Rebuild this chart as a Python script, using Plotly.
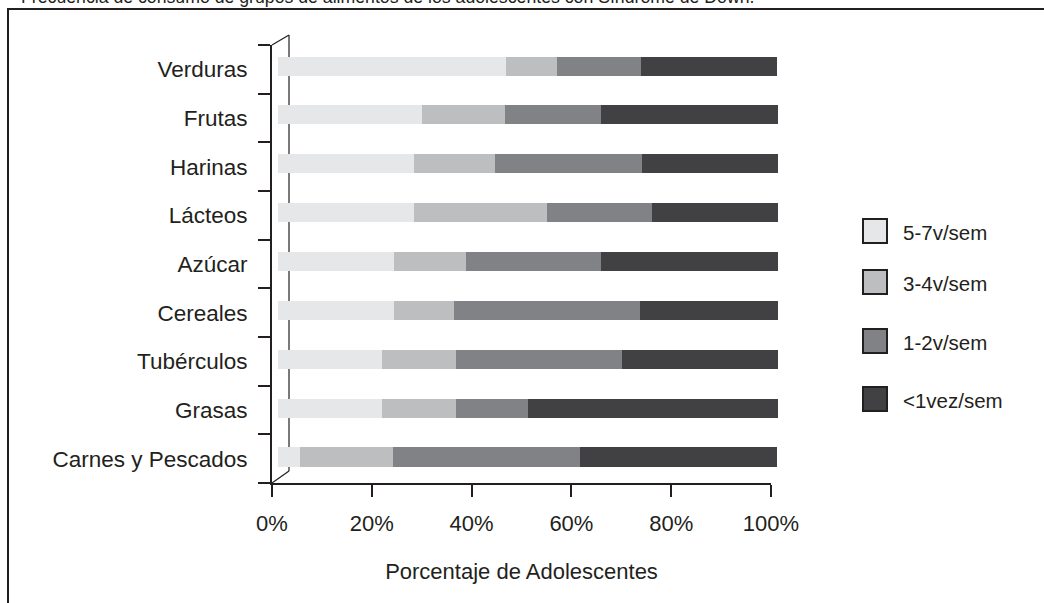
import plotly.graph_objects as go

# Canvas size in pixels (margins are zero, so paper coords map 1:1 to pixels)
W, H = 1044, 603

categories = ["Verduras", "Frutas", "Harinas", "Lácteos", "Azúcar",
              "Cereales", "Tubérculos", "Grasas", "Carnes y Pescados"]

freq_5_7 = [45.6, 28.8, 27.2, 27.2, 23.2, 23.2, 20.8, 20.8, 4.4]
freq_3_4 = [10.2, 16.6, 16.2, 26.6, 14.4, 12.0, 14.8, 14.8, 18.6]
freq_1_2 = [16.8, 19.2, 29.4, 21.0, 27.0, 37.2, 33.2, 14.4, 37.4]
freq_lt1 = [27.2, 35.4, 27.2, 25.2, 35.4, 28.0, 31.6, 50.0, 39.4]

series_names = ["5-7v/sem", "3-4v/sem", "1-2v/sem", "<1vez/sem"]
x_ticks = [0, 20, 40, 60, 80, 100]
x_tick_labels = ["0%", "20%", "40%", "60%", "80%", "100%"]

title_text = "Frecuencia de consumo de grupos de alimentos de los adolescentes con Síndrome de Down."
x_title = "Porcentaje de Adolescentes"

colors = ["#e6e7e8", "#bcbec0", "#808285", "#414042"]
INK = "#231f20"
FONT = "Liberation Sans, Arial, sans-serif"


def px(x):
    return x / W


def py(y):
    return 1 - y / H


fig = go.Figure()

# Empty trace so the front (labelled) axes get their own subplot
fig.add_trace(go.Scatter(x=[], y=[], xaxis="x", yaxis="y", showlegend=False,
                         hoverinfo="skip"))

# Stacked horizontal bars, drawn on the (slightly offset) back plane axes
for name, vals, col in zip(series_names, [freq_5_7, freq_3_4, freq_1_2, freq_lt1], colors):
    fig.add_trace(go.Bar(
        y=categories, x=vals, orientation="h", name=name,
        marker=dict(color=col, line=dict(width=0)),
        width=0.39, xaxis="x2", yaxis="y2", showlegend=False,
        hovertemplate="%{y}: %{x}%<extra>" + name + "</extra>",
    ))

shapes = []
# Outer frame
shapes.append(dict(type="rect", xref="paper", yref="paper",
                   x0=px(8), x1=px(W + 20), y0=py(H + 20), y1=py(9),
                   line=dict(color=INK, width=2), fillcolor="rgba(0,0,0,0)", layer="below"))
# Depth wall of the pseudo-3D category axis
wall = [((272, 45), (289, 35)), ((289, 35), (289, 471)), ((289, 471), (272, 483))]
for (xa, ya), (xb, yb) in wall:
    shapes.append(dict(type="line", xref="paper", yref="paper",
                       x0=px(xa), y0=py(ya), x1=px(xb), y1=py(yb),
                       line=dict(color=INK, width=1.2), layer="below"))

# Legend swatches and labels
legend_y = [231, 282, 341, 399]
annotations = []
for name, col, ly in zip(series_names, colors, legend_y):
    shapes.append(dict(type="rect", xref="paper", yref="paper",
                       x0=px(863), x1=px(887), y0=py(ly + 12), y1=py(ly - 12),
                       fillcolor=col, line=dict(color=INK, width=2)))
    annotations.append(dict(xref="paper", yref="paper", x=px(901), y=py(ly + 1),
                            xanchor="left", yanchor="middle", showarrow=False,
                            text=name.replace("<", "&lt;"),
                            font=dict(family=FONT, size=20.5, color=INK)))

# Title, partly cut off by the top edge
annotations.append(dict(xref="paper", yref="paper", x=px(19), y=py(9),
                        xanchor="left", yanchor="bottom", showarrow=False,
                        text=title_text,
                        font=dict(family=FONT, size=17.7, color=INK)))

fig.update_layout(
    width=W, height=H,
    margin=dict(l=0, r=0, t=0, b=0, pad=0, autoexpand=False),
    paper_bgcolor="white", plot_bgcolor="rgba(0,0,0,0)",
    barmode="stack",
    font=dict(family=FONT, color=INK),
    xaxis=dict(
        domain=[px(272), px(771)], range=[0, 100], anchor="y", automargin=False,
        tickmode="array", tickvals=x_ticks, ticktext=x_tick_labels,
        ticks="outside", ticklen=12, tickwidth=2, tickcolor=INK,
        ticklabelstandoff=8,
        showline=True, linewidth=2, linecolor=INK,
        showgrid=False, zeroline=False,
        tickfont=dict(family=FONT, size=22, color=INK),
        title=dict(text=x_title, standoff=28, font=dict(family=FONT, size=22, color=INK)),
    ),
    yaxis=dict(
        domain=[py(483), py(45)], range=[len(categories) - 0.5, -0.5], anchor="x",
        automargin=False,
        tickmode="array", tickvals=list(range(len(categories))), ticktext=categories,
        ticks="", ticklabelstandoff=18,
        minor=dict(tickmode="array", tickvals=[i - 0.5 for i in range(len(categories) + 1)],
                   ticks="outside", ticklen=12, tickwidth=2, tickcolor=INK, showgrid=False),
        showline=True, linewidth=2, linecolor=INK,
        showgrid=False, zeroline=False,
        tickfont=dict(family=FONT, size=22.5, color=INK),
    ),
    xaxis2=dict(domain=[px(278), px(778)], range=[0, 100], anchor="y2", visible=False),
    yaxis2=dict(domain=[py(481.4), py(41.6)], type="category",
                categoryorder="array", categoryarray=categories,
                range=[len(categories) - 0.5, -0.5], anchor="x2", visible=False),
    shapes=shapes,
    annotations=annotations,
)

fig.write_html("out.html")
